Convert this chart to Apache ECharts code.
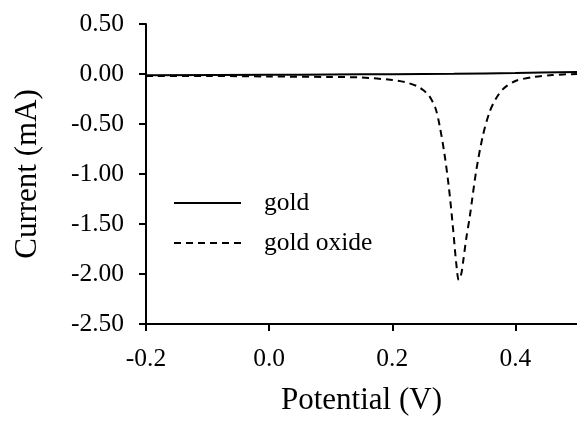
<!DOCTYPE html>
<html>
<head>
<meta charset="utf-8">
<script src="https://cdn.jsdelivr.net/npm/echarts@6/dist/echarts.min.js"></script>
<style>html,body{margin:0;padding:0;background:#fff}#c{width:577px;height:421px}</style>
</head>
<body>
<div id="c"></div>
<script>
// Data
var goldX = [-0.2, 0.0, 0.1, 0.2, 0.3, 0.4, 0.5];
var goldY = [-0.012, -0.008, -0.005, -0.002, 0.003, 0.01, 0.02];

var oxideX = [-0.2, -0.1, 0.0, 0.1, 0.15, 0.2, 0.22, 0.24, 0.25, 0.26, 0.27, 0.277, 0.285, 0.292, 0.298, 0.304, 0.308, 0.312, 0.315, 0.32, 0.326, 0.336, 0.347, 0.358, 0.368, 0.38, 0.4, 0.43, 0.46, 0.5];
var oxideY = [-0.02, -0.02, -0.025, -0.03, -0.035, -0.06, -0.08, -0.12, -0.16, -0.22, -0.34, -0.52, -0.81, -1.14, -1.5, -1.9, -2.06, -2.0, -1.88, -1.65, -1.42, -0.98, -0.62, -0.38, -0.25, -0.15, -0.07, -0.03, -0.01, 0.0];

var yTicks = [-2.5, -2.0, -1.5, -1.0, -0.5, 0.0, 0.5];
var xTicks = [-0.2, 0.0, 0.2, 0.4];

function pairs(xs, ys) { return xs.map(function (x, i) { return [x, ys[i]]; }); }

var font = 'Liberation Serif';
var chart = echarts.init(document.getElementById('c'), null, {renderer: 'canvas'});
chart.setOption({
  animation: false,
  backgroundColor: '#fff',
  grid: {left: 146, right: 0, top: 24, bottom: 94, containLabel: false},
  legend: {
    orient: 'vertical',
    left: 173,
    top: 190,
    padding: 0,
    itemWidth: 67,
    itemHeight: 25,
    itemGap: 14,
    itemStyle: {opacity: 0},
    textStyle: {fontFamily: font, fontSize: 25.5, color: '#000', padding: [0, 0, 0, 18]},
    data: ['gold', 'gold oxide']
  },
  xAxis: {
    type: 'value',
    min: -0.2, max: 0.5, interval: 0.2,
    name: 'Potential (V)',
    nameLocation: 'middle',
    nameGap: 61,
    nameTextStyle: {fontFamily: font, fontSize: 31, color: '#000'},
    axisLine: {onZero: false, lineStyle: {color: '#000', width: 2}},
    axisTick: {show: true, length: 7, inside: false, lineStyle: {color: '#000', width: 2}},
    axisLabel: {
      margin: 22, fontFamily: font, fontSize: 25.5, color: '#000', showMaxLabel: false,
      formatter: function (v) {
        for (var i = 0; i < xTicks.length; i++) if (Math.abs(v - xTicks[i]) < 1e-6) return xTicks[i].toFixed(1);
        return '';
      }
    },
    splitLine: {show: false}
  },
  yAxis: {
    type: 'value',
    min: -2.5, max: 0.5, interval: 0.5,
    name: 'Current (mA)',
    nameLocation: 'middle',
    nameGap: 103,
    nameTextStyle: {fontFamily: font, fontSize: 31, color: '#000'},
    axisLine: {onZero: false, lineStyle: {color: '#000', width: 2}},
    axisTick: {show: true, length: 7, inside: false, lineStyle: {color: '#000', width: 2}},
    axisLabel: {
      margin: 22, fontFamily: font, fontSize: 25.5, color: '#000',
      formatter: function (v) {
        for (var i = 0; i < yTicks.length; i++) if (Math.abs(v - yTicks[i]) < 1e-6) return yTicks[i].toFixed(2);
        return '';
      }
    },
    splitLine: {show: false}
  },
  series: [
    {
      name: 'gold', type: 'line', symbol: 'none', smooth: 0.3,
      data: pairs(goldX, goldY),
      lineStyle: {color: '#000', width: 2, type: 'solid'},
      itemStyle: {color: '#000'}
    },
    {
      name: 'gold oxide', type: 'line', symbol: 'none', smooth: 0.3,
      data: pairs(oxideX, oxideY),
      lineStyle: {color: '#000', width: 2, type: [7, 5]},
      itemStyle: {color: '#000'}
    }
  ]
});
</script>
</body>
</html>
